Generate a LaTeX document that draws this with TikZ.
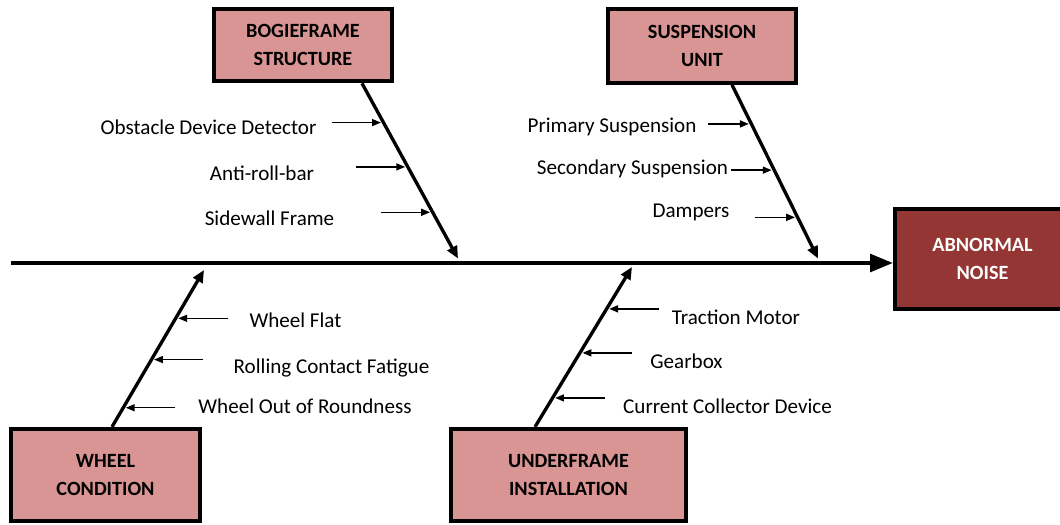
\documentclass[tikz,border=0pt]{standalone}
\usepackage{fontspec}
\setmainfont{Carlito}
\usetikzlibrary{arrows.meta, positioning, calc}

\definecolor{boxpink}{HTML}{D99594}
\definecolor{boxred}{HTML}{943634}

\begin{document}
\begin{tikzpicture}[
    font=\fontsize{12}{14}\selectfont,
    cat/.style={rectangle, draw=black, line width=2.4pt, fill=#1,
                font=\fontsize{11.5}{15.5}\selectfont\bfseries,
                align=center, inner sep=0pt},
    spine/.style={-{Triangle[length=13pt, width=10pt]}, line width=2.3pt},
    bone/.style={-{Triangle[length=7pt, width=6pt]}, line width=1.9pt},
    cause/.style={-{Triangle[length=5pt, width=4pt]}, line width=0.8pt,
                  shorten >=1.5pt}
  ]
  \useasboundingbox (0,0) rectangle (21.2,10.48);

  % category boxes
  \node[cat=boxpink, minimum width=3.55cm, minimum height=1.45cm] (bogie) at (6.06,9.58) {BOGIEFRAME\\STRUCTURE};
  \node[cat=boxpink, minimum width=3.75cm, minimum height=1.47cm] (susp)  at (14.04,9.56) {SUSPENSION\\UNIT};
  \node[cat=boxpink, minimum width=3.78cm, minimum height=1.84cm] (wheel) at (2.11,0.98) {WHEEL\\CONDITION};
  \node[cat=boxpink, minimum width=4.70cm, minimum height=1.84cm] (under) at (11.37,0.98) {UNDERFRAME\\INSTALLATION};
  \node[cat=boxred, text=white, minimum width=3.5cm, minimum height=2.0cm] (noise) at (19.65,5.30) {ABNORMAL\\NOISE};

  % main spine
  \coordinate (tail) at (0.22,5.22);
  \draw[spine] (tail) -- (tail -| noise.west);

  % bones
  \coordinate (bogieend) at (9.16,5.31);
  \coordinate (suspend)  at (16.36,5.31);
  \coordinate (wheelend) at (4.08,5.08);
  \coordinate (underend) at (12.64,5.14);

  \draw[bone] ($(bogie.south)+(1.18,0)$) -- (bogieend)
    coordinate[pos=0.224] (bo1) coordinate[pos=0.477] (bo2) coordinate[pos=0.736] (bo3);
  \draw[bone] ($(susp.south)+(0.60,0)$) -- (suspend)
    coordinate[pos=0.225] (su1) coordinate[pos=0.491] (su2) coordinate[pos=0.763] (su3);
  \draw[bone] ($(wheel.north)+(0.13,0)$) -- (wheelend)
    coordinate[pos=0.692] (wh1) coordinate[pos=0.429] (wh2) coordinate[pos=0.122] (wh3);
  \draw[bone] ($(under.north)+(-0.67,0)$) -- (underend)
    coordinate[pos=0.738] (un1) coordinate[pos=0.463] (un2) coordinate[pos=0.181] (un3);

  % causes
  \node (odd)       at (4.17,7.94)  {Obstacle Device Detector};
  \node (antiroll)  at (5.24,7.02)  {Anti-roll-bar};
  \node (sidewall)  at (5.39,6.12)  {Sidewall Frame};
  \node (primary)   at (12.24,7.94) {Primary Suspension};
  \node (secondary) at (12.65,7.10) {Secondary Suspension};
  \node (dampers)   at (13.82,6.24) {Dampers};
  \node (flat)      at (5.91,4.08)  {Wheel Flat};
  \node (rcf)       at (6.63,3.12)  {Rolling Contact Fatigue};
  \node (oor)       at (6.10,2.36)  {Wheel Out of Roundness};
  \node (traction)  at (14.72,4.14) {Traction Motor};
  \node (gearbox)   at (13.73,3.26) {Gearbox};
  \node (collector) at (14.55,2.36) {Current Collector Device};

  \foreach \p in {bo1,bo2,bo3}
    \draw[cause] ($(\p)+(-1.04,0)$) -- (\p);
  \foreach \p in {su1,su2,su3}
    \draw[cause] ($(\p)+(-0.86,0)$) -- (\p);
  \foreach \p in {wh1,wh2,wh3,un1,un2,un3}
    \draw[cause] ($(\p)+(1.04,0)$) -- (\p);

\end{tikzpicture}
\end{document}
